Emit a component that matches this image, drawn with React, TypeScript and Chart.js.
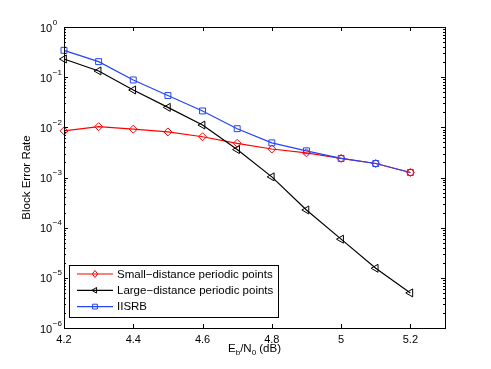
import React, { useEffect, useRef } from "react";
import { Chart, registerables } from "chart.js";

Chart.register(...registerables);

const snr = [4.2, 4.3, 4.4, 4.5, 4.6, 4.7, 4.8, 4.9, 5.0, 5.1, 5.2];
const smallDistance = [0.0085, 0.0103, 0.0092, 0.0081, 0.0065, 0.0048, 0.0037, 0.0031, 0.0024, 0.0019, 0.00126];
const largeDistance = [0.23, 0.133, 0.0555, 0.025, 0.0111, 0.0036, 0.00103, 0.000225, 0.000059, 0.0000155, 0.000005];
const iisrb = [0.343, 0.204, 0.088, 0.043, 0.0212, 0.0094, 0.0049, 0.0034, 0.0024, 0.0019, 0.00126];

const xTicks = [4.2, 4.4, 4.6, 4.8, 5.0, 5.2];
const yDecades = [1e-6, 1e-5, 1e-4, 1e-3, 1e-2, 1e-1, 1e0];
const yExponents = ["−6", "−5", "−4", "−3", "−2", "−1", "0"];

const labels = ["Small−distance periodic points", "Large−distance periodic points", "IISRB"];
const colors = ["#ff0000", "#000000", "#2244ff"];
const styles = ["rectRot", "triangle", "rect"];
const FONT = "'Liberation Sans', Arial, Helvetica, sans-serif";

function marker(ctx: CanvasRenderingContext2D, kind: string, x: number, y: number, r: number) {
  ctx.beginPath();
  if (kind === "rectRot") {
    ctx.moveTo(x, y - r * 1.1);
    ctx.lineTo(x + r * 0.85, y);
    ctx.lineTo(x, y + r * 1.1);
    ctx.lineTo(x - r * 0.85, y);
    ctx.closePath();
  } else if (kind === "triangle") {
    ctx.moveTo(x - r, y);
    ctx.lineTo(x + r * 0.5, y - r * 0.87);
    ctx.lineTo(x + r * 0.5, y + r * 0.87);
    ctx.closePath();
  } else {
    ctx.rect(x - r * 0.75, y - r * 0.75, r * 1.5, r * 1.5);
  }
  ctx.stroke();
}

const framePlugin = {
  id: "frame",
  afterDraw(chart: any) {
    const { ctx, chartArea: a, scales } = chart;
    const xs = scales.x;
    const ys = scales.y;
    ctx.save();
    ctx.strokeStyle = "#000";
    ctx.lineWidth = 1;
    ctx.strokeRect(Math.round(a.left) + 0.5, Math.round(a.top) + 0.5, Math.round(a.right - a.left), Math.round(a.bottom - a.top));
    const seg = (x1: number, y1: number, x2: number, y2: number) => {
      ctx.beginPath();
      ctx.moveTo(x1, y1);
      ctx.lineTo(x2, y2);
      ctx.stroke();
    };
    for (const v of xTicks) {
      const px = Math.round(xs.getPixelForValue(v)) + 0.5;
      seg(px, a.bottom, px, a.bottom - 4);
      seg(px, a.top, px, a.top + 4);
    }
    for (const d of yDecades) {
      for (let m = 1; m <= 9; m++) {
        const v = d * m;
        if (v > yDecades[yDecades.length - 1] * 1.0001) break;
        const py = Math.round(ys.getPixelForValue(v)) + 0.5;
        const len = m === 1 ? 4 : 2;
        seg(a.left, py, a.left + len, py);
        seg(a.right, py, a.right - len, py);
      }
    }
    // y tick labels: 10 with superscript exponent
    ctx.fillStyle = "#000";
    ctx.textBaseline = "alphabetic";
    ctx.textAlign = "left";
    yDecades.forEach((d, i) => {
      const py = ys.getPixelForValue(d);
      ctx.font = `11px ${FONT}`;
      ctx.fillText("10", 40, py + 4.5);
      const w = ctx.measureText("10").width;
      ctx.font = `8px ${FONT}`;
      ctx.fillText(yExponents[i], 40 + w + 0.5, py - 2.5);
    });
    // x title with subscripts
    const big = `11.5px ${FONT}`;
    const small = `8px ${FONT}`;
    const parts: [string, boolean][] = [["E", false], ["b", true], ["/N", false], ["0", true], [" (dB)", false]];
    let total = 0;
    for (const [t, sub] of parts) {
      ctx.font = sub ? small : big;
      total += ctx.measureText(t).width;
    }
    let cx = (a.left + a.right) / 2 - total / 2;
    const base = 352;
    for (const [t, sub] of parts) {
      ctx.font = sub ? small : big;
      ctx.fillText(t, cx, sub ? base + 3 : base);
      cx += ctx.measureText(t).width;
    }
    // legend
    ctx.font = `11.5px ${FONT}`;
    let maxW = 0;
    for (const l of labels) maxW = Math.max(maxW, ctx.measureText(l).width);
    const bx = a.left + 5;
    const bh = 52;
    const by = a.bottom - 11 - bh;
    const textX = bx + 48;
    const bw = textX - bx + maxW + 5;
    ctx.fillStyle = "#fff";
    ctx.fillRect(bx, by, bw, bh);
    ctx.strokeStyle = "#000";
    ctx.strokeRect(Math.round(bx) + 0.5, Math.round(by) + 0.5, Math.round(bw), bh);
    labels.forEach((l, i) => {
      const ry = by + 9 + i * 16.3;
      ctx.strokeStyle = colors[i];
      ctx.lineWidth = 1.2;
      seg(bx + 8, ry, bx + 44, ry);
      ctx.lineWidth = 1;
      marker(ctx, styles[i], bx + 26, ry, 3.2);
      ctx.fillStyle = "#000";
      ctx.textBaseline = "middle";
      ctx.fillText(l, textX, ry + 0.5);
    });
    ctx.restore();
  },
};

export default function App() {
  const ref = useRef<HTMLCanvasElement>(null);
  useEffect(() => {
    if (!ref.current) return;
    Chart.defaults.font.family = FONT;
    const series = [smallDistance, largeDistance, iisrb];
    const chart = new Chart(ref.current, {
      type: "line",
      data: {
        datasets: series.map((s, i) => ({
          label: labels[i],
          data: snr.map((x, j) => ({ x, y: s[j] })),
          borderColor: colors[i],
          backgroundColor: "transparent",
          borderWidth: 1.2,
          pointStyle: styles[i] as any,
          pointRadius: i === 0 ? 4 : i === 1 ? 4.6 : 4.2,
          pointRotation: i === 1 ? -90 : 0,
          pointBorderColor: colors[i],
          pointBackgroundColor: "transparent",
          pointBorderWidth: 1,
          clip: false as any,
          order: 2 - i,
        })),
      },
      options: {
        animation: false,
        responsive: false,
        layout: { padding: { left: 0, right: 46, top: 27, bottom: 0 } },
        plugins: { legend: { display: false }, tooltip: { enabled: false } },
        scales: {
          x: {
            type: "linear",
            min: 4.2,
            max: 5.3,
            afterBuildTicks: (s: any) => {
              s.ticks = xTicks.map((v) => ({ value: v }));
            },
            afterFit: (s: any) => {
              s.height = 41;
            },
            grid: { display: false, drawTicks: false },
            border: { display: false },
            ticks: {
              color: "#000",
              font: { size: 11 },
              padding: 5,
              maxRotation: 0,
              autoSkip: false,
              callback: (v: any) => String(Number(v)),
            },
          },
          y: {
            type: "logarithmic",
            min: 1e-6,
            max: 1,
            afterBuildTicks: (s: any) => {
              s.ticks = yDecades.map((v) => ({ value: v }));
            },
            afterFit: (s: any) => {
              s.width = 64;
            },
            grid: { display: false, drawTicks: false },
            border: { display: false },
            title: {
              display: true,
              text: "Block Error Rate",
              color: "#000",
              font: { size: 11.5 },
              padding: { top: 20, bottom: 0 },
            },
            ticks: { display: false },
          },
        },
      },
      plugins: [framePlugin],
    });
    return () => chart.destroy();
  }, []);
  return (
    <div style={{ position: "absolute", left: 0, top: 0, width: 491, height: 369, background: "#fff" }}>
      <canvas ref={ref} width={491} height={369} />
    </div>
  );
}
